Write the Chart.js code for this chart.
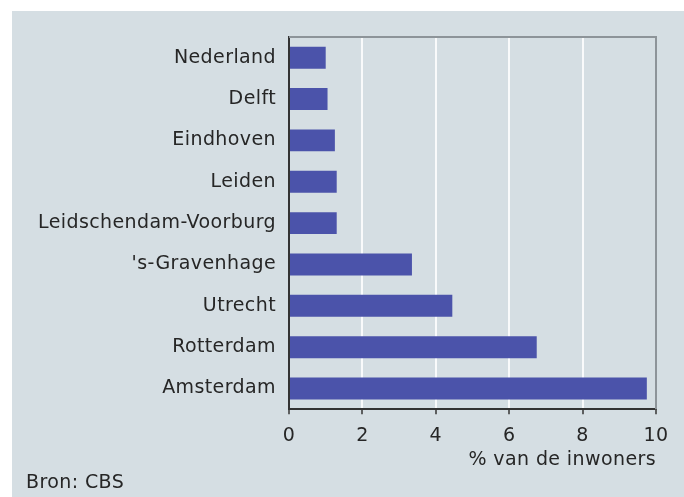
<!DOCTYPE html>
<html>
<head>
<meta charset="utf-8">
<script src="https://cdn.jsdelivr.net/npm/chart.js@4"></script>
<style>
  html, body { margin: 0; padding: 0; background: #fff; }
  #paneel {
    position: absolute; left: 12px; top: 11px;
    width: 672px; height: 486px;
    background: #d5dee3;
  }
</style>
</head>
<body>
<div id="paneel"><canvas id="grafiek" width="672" height="486"></canvas></div>
<script>
// gemeenten en aandeel in % van de inwoners
const categories = ['Nederland', 'Delft', 'Eindhoven', 'Leiden', 'Leidschendam-Voorburg',
    "'s-Gravenhage", 'Utrecht', 'Rotterdam', 'Amsterdam'];
const values = [1.0, 1.05, 1.25, 1.3, 1.3, 3.35, 4.45, 6.75, 9.75];
const xMin = 0, xMax = 10, xStep = 2;
const axisTitle = '% van de inwoners';
const sourceText = 'Bron: CBS';

const tekstKleur = '#262626';
const lettertype = { family: 'DejaVu Sans, Verdana, sans-serif', size: 19 };

// iets ruimere letters, zoals Verdana
const letterruimte = {
    id: 'letterruimte',
    beforeLayout(chart) { chart.ctx.letterSpacing = '0.4px'; },
    beforeDraw(chart) { chart.ctx.letterSpacing = '0.4px'; }
};

// grijze rand boven en rechts van het plotvlak
const kader = {
    id: 'kader',
    beforeDatasetsDraw(chart) {
        const { ctx, chartArea: a } = chart;
        ctx.save();
        ctx.strokeStyle = '#8d9499';
        ctx.lineWidth = 2;
        ctx.beginPath();
        ctx.moveTo(a.left, a.top);
        ctx.lineTo(a.right, a.top);
        ctx.lineTo(a.right, a.bottom);
        ctx.stroke();
        ctx.restore();
    }
};

new Chart(document.getElementById('grafiek'), {
    type: 'bar',
    data: {
        labels: categories,
        datasets: [{
            data: values,
            backgroundColor: '#4b53aa',
            barPercentage: 0.53,
            categoryPercentage: 1
        }]
    },
    options: {
        indexAxis: 'y',
        responsive: false,
        animation: false,
        layout: { padding: { top: 26, right: 28, left: 14, bottom: 3 } },
        plugins: {
            legend: { display: false },
            tooltip: { enabled: false },
            title: {
                display: true,
                text: sourceText,
                position: 'bottom',
                align: 'start',
                color: tekstKleur,
                font: { ...lettertype, weight: 'normal' },
                padding: 0
            }
        },
        scales: {
            x: {
                min: xMin,
                max: xMax,
                ticks: { stepSize: xStep, color: tekstKleur, font: lettertype, padding: 10 },
                grid: {
                    color: c => (c.tick && c.tick.value > xMin && c.tick.value < xMax) ? 'rgba(255,255,255,0.85)' : 'rgba(0,0,0,0)',
                    lineWidth: 2,
                    tickLength: 5,
                    tickColor: '#333',
                    tickWidth: 1.5
                },
                border: { color: '#333', width: 2 },
                title: {
                    display: true,
                    text: axisTitle,
                    align: 'end',
                    color: tekstKleur,
                    font: lettertype,
                    padding: 0
                },
                afterFit(scale) { scale.height = 62; }
            },
            y: {
                ticks: { color: tekstKleur, font: lettertype, padding: 13 },
                grid: { display: false, drawTicks: false },
                border: { color: '#333', width: 2 },
                afterFit(scale) { scale.width = 263; }
            }
        }
    },
    plugins: [letterruimte, kader]
});
</script>
</body>
</html>
